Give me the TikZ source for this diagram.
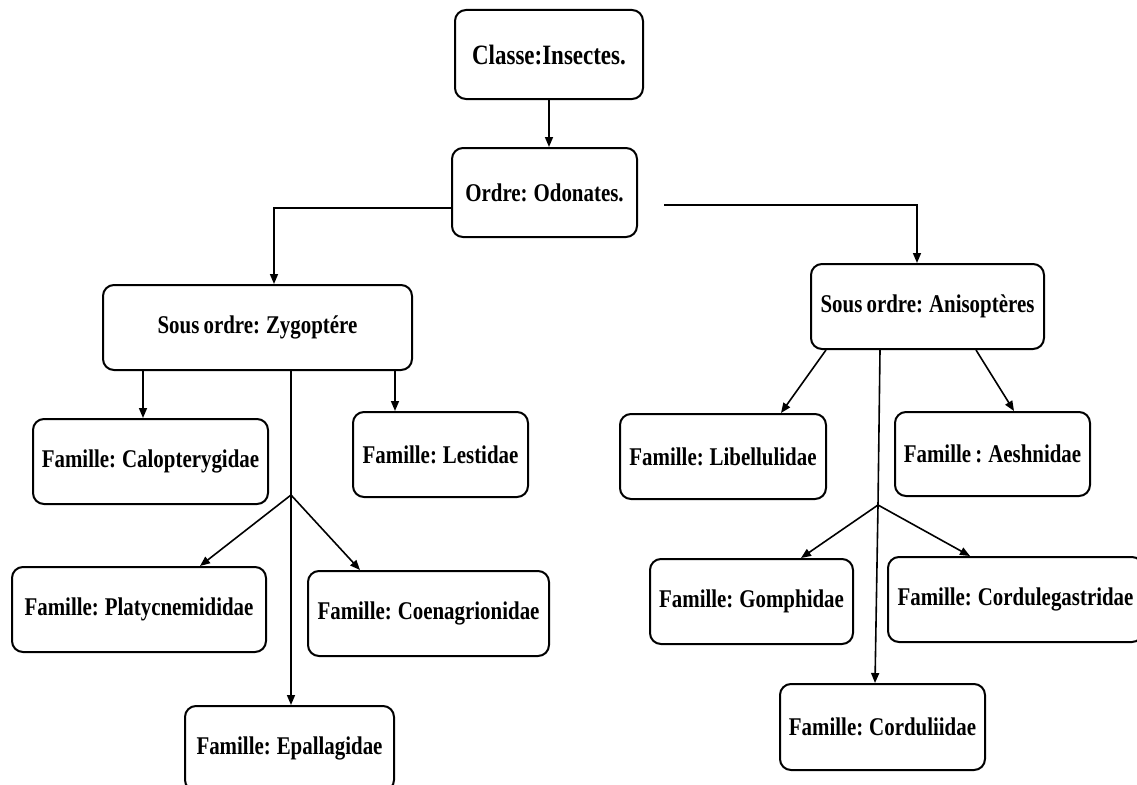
\documentclass[tikz,border=0pt]{standalone}
\usepackage{fontspec}
\setmainfont{Liberation Serif}[FakeStretch=0.82,WordSpace=0.8]
\usetikzlibrary{arrows.meta,positioning,calc}

\begin{document}
\begin{tikzpicture}[x=1pt,y=-1pt,line width=1.6pt,>={Triangle[length=10pt,width=8pt]},
  taxon/.style={draw,line width=2pt,rounded corners=11pt,inner sep=0pt,font=\fontsize{25.5}{30}\selectfont\bfseries},
  link/.style={line width=1.6pt}]
\useasboundingbox (0,0) rectangle (1137,784);
% classe and ordre
\node[taxon,minimum width=188pt,minimum height=89pt,font=\fontsize{28}{32}\selectfont\bfseries] (classe) at (549,54.5) {Classe:Insectes.};
\node[taxon,minimum width=185pt,minimum height=89pt] (ordre) at (544.5,192.5) {Ordre: Odonates.};
% sous ordres
\node[taxon,minimum width=309pt,minimum height=85pt] (zygo) at (257.5,327.5) {Sous ordre: Zygoptére};
\node[taxon,minimum width=233pt,minimum height=85pt] (aniso) at (927.5,306.5) {Sous ordre: Anisoptères};
% familles, Zygoptere
\node[taxon,minimum width=235pt,minimum height=85pt] (calop) at (150.5,461.5) {Famille: Calopterygidae};
\node[taxon,minimum width=175pt,minimum height=85pt] (lestid) at (440.5,454.5) {Famille: Lestidae};
\node[taxon,minimum width=254pt,minimum height=85pt] (platy) at (139,609.5) {Famille: Platycnemididae};
\node[taxon,minimum width=241pt,minimum height=85pt] (coenag) at (428.5,613.5) {Famille: Coenagrionidae};
\node[taxon,minimum width=209pt,minimum height=85pt] (epall) at (289.5,748.5) {Famille: Epallagidae};
% familles, Anisopteres
\node[taxon,minimum width=206pt,minimum height=85pt] (libell) at (723,456.5) {Famille: Libellulidae};
\node[taxon,minimum width=195pt,minimum height=84pt] (aeshn) at (992.5,454) {Famille : Aeshnidae};
\node[taxon,minimum width=203pt,minimum height=85pt] (gomph) at (751.5,601.5) {Famille: Gomphidae};
\node[taxon,minimum width=255pt,minimum height=85pt] (cordleg) at (1015.5,599.5) {Famille: Cordulegastridae};
\node[taxon,minimum width=205pt,minimum height=86pt] (cordul) at (882.5,727) {Famille: Corduliidae};
% junctions
\coordinate (zj) at (291,495);
\coordinate (aj) at (878,505);
% links
\draw[link,->] (classe.south) -- (classe.south |- ordre.north);
\draw[link,->] ([yshift=-15.5pt]ordre.west) -| ([xshift=16.5pt]zygo.north);
\draw[link,->] ([xshift=26pt,yshift=-12.5pt]ordre.east) -| ([xshift=-10.5pt]aniso.north);
\draw[link,->] ([xshift=-7.5pt]calop.north |- zygo.south) -- ([xshift=-7.5pt]calop.north);
\draw[link,->] ([xshift=-45.5pt]lestid.north |- zygo.south) -- ([xshift=-45.5pt]lestid.north);
\draw[link] (zygo.south -| zj) -- (zj);
\draw[link,->] (zj) -- (epall.north -| zj);
\draw[link,->] (zj) -- ([xshift=61pt]platy.north);
\draw[link,->] (zj) -- ([xshift=-68.5pt]coenag.north);
\draw[link,->] ([xshift=-101.5pt]aniso.south) -- ([xshift=58pt]libell.north);
\draw[link,->] ([xshift=48.5pt]aniso.south) -- ([xshift=21.5pt]aeshn.north);
\draw[link] ([xshift=-47.5pt]aniso.south) -- (aj);
\draw[link,->] (aj) -- ([xshift=-7.5pt]cordul.north);
\draw[link,->] (aj) -- ([xshift=49.5pt]gomph.north);
\draw[link,->] (aj) -- ([xshift=-45.5pt]cordleg.north);
\end{tikzpicture}
\end{document}
